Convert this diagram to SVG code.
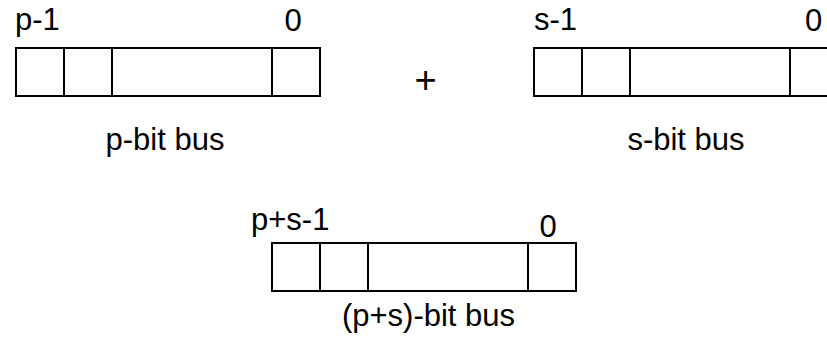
<svg xmlns="http://www.w3.org/2000/svg" width="827" height="346" viewBox="0 0 827 346">
  <style>
    .cell { fill: #ffffff; stroke: #000000; stroke-width: 2; }
    .div { stroke: #000000; stroke-width: 2; }
    .lbl { font-family: "Liberation Sans", Arial, sans-serif; font-size: 31px; fill: #000000; }
  </style>
  <defs>
    <!-- a bus register: outer frame plus three cell dividers -->
    <g id="bus">
      <rect class="cell" x="0" y="0" width="304" height="48"/>
      <line class="div" x1="48" y1="0" x2="48" y2="48"/>
      <line class="div" x1="96" y1="0" x2="96" y2="48"/>
      <line class="div" x1="256" y1="0" x2="256" y2="48"/>
    </g>
  </defs>
  <rect width="827" height="346" fill="#ffffff"/>

  <g id="p-bus">
    <use href="#bus" x="16" y="48"/>
    <text class="lbl" x="15" y="30">p-1</text>
    <text class="lbl" x="293" y="31" text-anchor="middle">0</text>
    <text class="lbl" x="165" y="150" text-anchor="middle">p-bit bus</text>
  </g>

  <g id="plus">
    <text class="lbl" x="425.5" y="93" text-anchor="middle" style="font-size:38px">+</text>
  </g>

  <g id="s-bus">
    <use href="#bus" x="534" y="48"/>
    <text class="lbl" x="534" y="30">s-1</text>
    <text class="lbl" x="813.5" y="31" text-anchor="middle">0</text>
    <text class="lbl" x="686" y="150" text-anchor="middle">s-bit bus</text>
  </g>

  <g id="ps-bus">
    <use href="#bus" x="272" y="243"/>
    <text class="lbl" x="251" y="230">p+s-1</text>
    <text class="lbl" x="548" y="237" text-anchor="middle">0</text>
    <text class="lbl" x="428.5" y="326" text-anchor="middle">(p+s)-bit bus</text>
  </g>

  <g id="connectors"></g>
</svg>
